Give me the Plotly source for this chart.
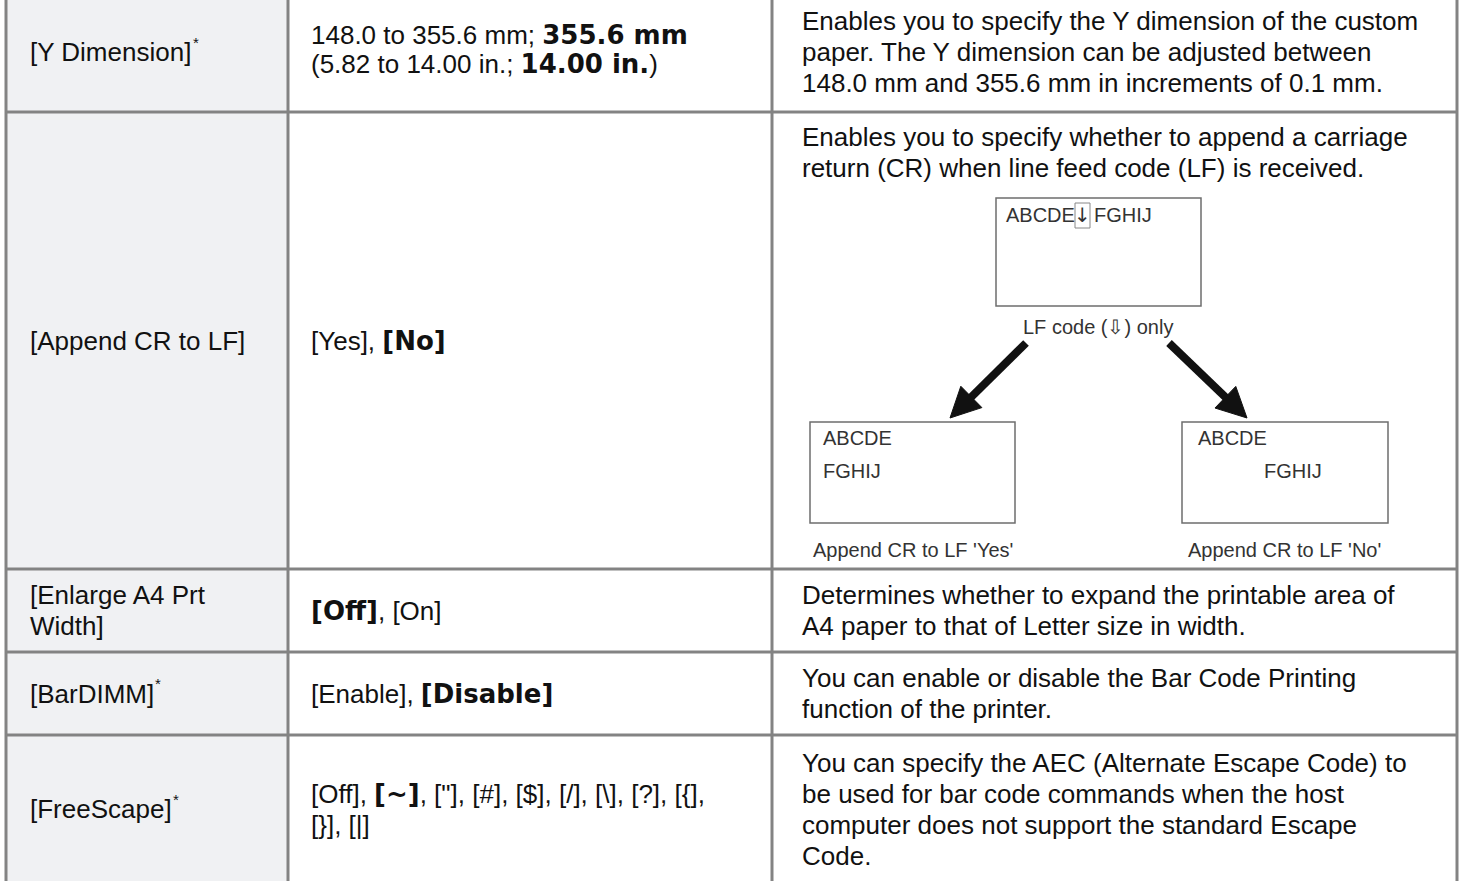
import plotly.graph_objects as go

W, H = 1461, 881

# ---------------- table content ----------------
BOLD = "<span style='font-family:DejaVu Sans;font-weight:bold;font-size:26px'>{}</span>"

settings = [["[Y Dimension]"],
            ["[Append CR to LF]"],
            ["[Enlarge A4 Prt", "Width]"],
            ["[BarDIMM]"],
            ["[FreeScape]"]]
footnote_mark = "*"
footnoted_rows = [0, 3, 4]
values = [
    ["148.0 to 355.6 mm; " + BOLD.format("355.6 mm"),
     "(5.82 to 14.00 in.; " + BOLD.format("14.00 in.") + ")"],
    ["[Yes], " + BOLD.format("[No]")],
    [BOLD.format("[Off]") + ", [On]"],
    ["[Enable], " + BOLD.format("[Disable]")],
    ["[Off], " + BOLD.format("[~]") + ", [\"], [#], [$], [/], [\\], [?], [{],", "[}], [|]"],
]
descriptions = [
    ["Enables you to specify the Y dimension of the custom",
     "paper. The Y dimension can be adjusted between",
     "148.0 mm and 355.6 mm in increments of 0.1 mm."],
    ["Enables you to specify whether to append a carriage",
     "return (CR) when line feed code (LF) is received."],
    ["Determines whether to expand the printable area of",
     "A4 paper to that of Letter size in width."],
    ["You can enable or disable the Bar Code Printing",
     "function of the printer."],
    ["You can specify the AEC (Alternate Escape Code) to",
     "be used for bar code commands when the host",
     "computer does not support the standard Escape",
     "Code."],
]
# diagram texts
diag_top_left, diag_top_mark, diag_top_right = "ABCDE", "↓", "FGHIJ"
diag_mid = "LF code (⇩) only"
diag_yes = ["ABCDE", "FGHIJ"]
diag_no = ["ABCDE", "FGHIJ"]
caption_yes = "Append CR to LF 'Yes'"
caption_no = "Append CR to LF 'No'"

# ---------------- geometry (pixels) ----------------
col_edges = [6, 288, 772, 1457]
row_edges = [-10, 112, 569, 652, 735, 900]
text_x = [28, 309, 800]
PITCH = 31

FONT = "Liberation Sans, Arial, sans-serif"
FS = 26
TXT = "#111111"
BORDER = "#838383"
FILL1 = "#f0f1f3"

# approximate Arial advance widths (em) used to place the footnote marks
ADV = {"[": .278, "]": .278, " ": .278, "Y": .667, "D": .722, "i": .222, "m": .833, "e": .556,
       "n": .556, "s": .5, "o": .556, "B": .667, "a": .556, "r": .333, "I": .278, "M": .833,
       "F": .611, "S": .667, "c": .5, "p": .556}
def text_width(s, size):
    return sum(ADV.get(ch, .556) for ch in s) * size

fig = go.Figure()
fig.add_trace(go.Scatter(x=[0, W], y=[0, H], mode="markers", marker=dict(opacity=0),
                         hoverinfo="skip", showlegend=False))

shapes = []
shapes.append(dict(type="rect", x0=col_edges[0], x1=col_edges[1], y0=0, y1=H,
                   fillcolor=FILL1, line=dict(width=0), layer="below"))
for xe in col_edges:
    shapes.append(dict(type="line", x0=xe, x1=xe, y0=0, y1=H, line=dict(color=BORDER, width=3)))
for ye in row_edges[1:-1]:
    shapes.append(dict(type="line", x0=col_edges[0], x1=col_edges[-1], y0=ye, y1=ye,
                       line=dict(color=BORDER, width=3)))

ann = []
def txt(x, y, s, size=FS, anchor="left", color=TXT, family=FONT):
    ann.append(dict(x=x, y=y, text=s, showarrow=False, xanchor=anchor, yanchor="middle",
                    font=dict(family=family, size=size, color=color)))

def block(x, yc, lines, pitch=PITCH):
    n = len(lines)
    for k, ln in enumerate(lines):
        txt(x, yc + (k - (n - 1) / 2) * pitch, ln)

row_centers = [(row_edges[i] + row_edges[i + 1]) / 2 for i in range(len(settings))]
row_centers[0] = 52
row_centers[-1] = 809
for i in range(len(settings)):
    block(text_x[0], row_centers[i], settings[i])
    if i in footnoted_rows:
        txt(text_x[0] + text_width(settings[i][0], FS) + 1, row_centers[i] - 10,
            footnote_mark, size=15)
    if i == 0:
        block(text_x[1], 49, values[i], pitch=29)
    else:
        block(text_x[1], row_centers[i], values[i])
for i, lines in enumerate(descriptions):
    if i == 1:
        block(text_x[2], 152, lines)
    else:
        block(text_x[2], row_centers[i], lines)

# ---------------- diagram ----------------
DB = "#6e6e6e"
DC = "#333333"
DS = 20
boxes = [(996, 198, 1201, 306), (810, 422, 1015, 523), (1182, 422, 1388, 523)]
for (x0, y0, x1, y1) in boxes:
    shapes.append(dict(type="rect", x0=x0, x1=x1, y0=y0, y1=y1, line=dict(color=DB, width=1.5)))
txt(1004, 215, diag_top_left, size=DS, color=DC)
shapes.append(dict(type="rect", x0=1075, x1=1090, y0=203, y1=228, line=dict(color="#888", width=1)))
txt(1082.5, 215, diag_top_mark, size=DS, anchor="center", color=DC, family="DejaVu Sans")
txt(1092, 215, diag_top_right, size=DS, color=DC)
txt(1098, 327, diag_mid, size=DS, anchor="center", color=DC)
txt(821, 438, diag_yes[0], size=DS, color=DC)
txt(821, 471, diag_yes[1], size=DS, color=DC)
txt(1196, 438, diag_no[0], size=DS, color=DC)
txt(1262, 471, diag_no[1], size=DS, color=DC)
txt(913, 550, caption_yes, size=DS, anchor="center", color=DC)
txt(1284, 550, caption_no, size=DS, anchor="center", color=DC)

# arrows drawn as shaft + triangular head
arrows = [((1026, 343), (950, 418)), ((1169, 343), (1247, 418))]
HEAD_L, HEAD_W, SHAFT = 30, 15, 8
for (xs, ys), (xe, ye) in arrows:
    dx, dy = xe - xs, ye - ys
    L = (dx * dx + dy * dy) ** 0.5
    ux, uy = dx / L, dy / L
    nx, ny = -uy, ux
    bx, by = xe - HEAD_L * ux, ye - HEAD_L * uy
    shapes.append(dict(type="line", x0=xs, y0=ys, x1=bx + 4 * ux, y1=by + 4 * uy,
                       line=dict(color="#111", width=SHAFT)))
    path = (f"M {xe} {ye} L {bx + HEAD_W * nx} {by + HEAD_W * ny} "
            f"L {bx - HEAD_W * nx} {by - HEAD_W * ny} Z")
    shapes.append(dict(type="path", path=path, fillcolor="#111", line=dict(color="#111", width=1)))

fig.update_layout(
    width=W, height=H, margin=dict(l=0, r=0, t=0, b=0),
    paper_bgcolor="white", plot_bgcolor="white",
    xaxis=dict(range=[0, W], visible=False, fixedrange=True),
    yaxis=dict(range=[H, 0], visible=False, fixedrange=True),
    shapes=shapes, annotations=ann, showlegend=False,
)
fig.write_html("out.html", config={"displayModeBar": False, "staticPlot": True},
               post_script="document.body.style.margin='0px';document.body.style.overflow='hidden';")
